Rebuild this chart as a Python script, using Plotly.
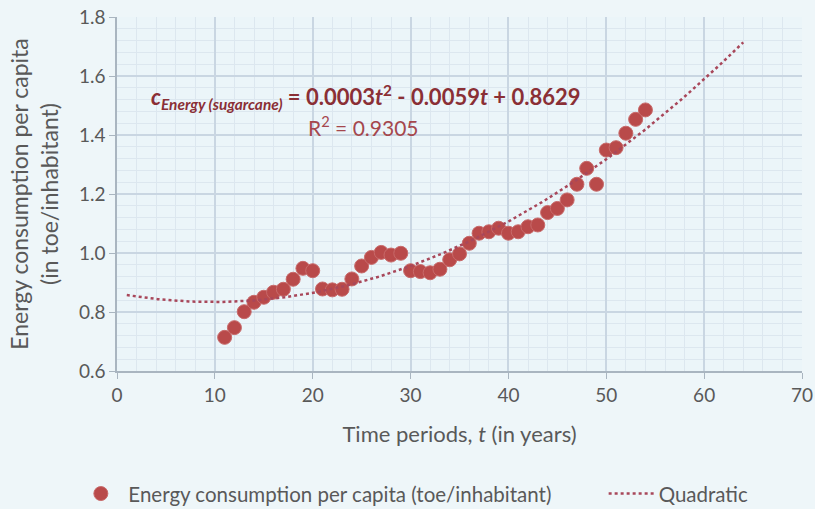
import numpy as np
import plotly.graph_objects as go

# Observed energy consumption per capita (toe/inhabitant) by time period t
t_years = list(range(11, 55))
energy_per_capita = [
    0.714, 0.747, 0.801, 0.833, 0.850, 0.867, 0.877, 0.911, 0.948, 0.940,
    0.878, 0.875, 0.877, 0.912, 0.956, 0.985, 1.002, 0.993, 0.999, 0.940,
    0.937, 0.933, 0.945, 0.977, 0.997, 1.033, 1.067, 1.072, 1.084, 1.067,
    1.072, 1.089, 1.095, 1.137, 1.151, 1.180, 1.233, 1.287, 1.233, 1.349,
    1.357, 1.406, 1.453, 1.485,
]

# Quadratic trend: c = a t^2 + b t + c0, shown from t=1 to t=64
quad_coefs = [0.0003, -0.0059, 0.8629]
r_squared = 0.9305
trend_range = [1, 64]

x_ticks = [0, 10, 20, 30, 40, 50, 60, 70]
y_ticks = [0.6, 0.8, 1.0, 1.2, 1.4, 1.6, 1.8]

FONT = "Lato, 'Open Sans', sans-serif"
GREY = "#595959"
MARKER = "#b94a4a"
TREND = "#a8475a"

t_fit = np.linspace(trend_range[0], trend_range[1], 200)
c_fit = np.polyval(quad_coefs, t_fit)

# non-breaking spaces widen the gap between the two legend entries
legend_pad = "\u00a0" * 9

fig = go.Figure()
fig.add_trace(go.Scatter(
    x=t_years, y=energy_per_capita, mode="markers",
    name="Energy consumption per capita (toe/inhabitant)" + legend_pad,
    marker=dict(size=14, color=MARKER, line=dict(color="#c86a6a", width=1)),
))
fig.add_trace(go.Scatter(
    x=t_fit, y=c_fit, mode="lines", name="Quadratic",
    line=dict(color=TREND, width=2.5, dash="dot"),
))

a2, a1, a0 = quad_coefs
eq_text = (
    "<b><i>c</i><sub><i>Energy (sugarcane)</i></sub> = "
    f"{a2:.4f}<i>t</i><sup>2</sup> - {abs(a1):.4f}<i>t</i> + {a0:.4f}</b>"
)
fig.add_annotation(
    x=25.4, y=1.53, xref="x", yref="y", text=eq_text, showarrow=False,
    font=dict(family=FONT, size=22, color="#8a2f35"),
)
fig.add_annotation(
    x=25.2, y=1.432, xref="x", yref="y", text=f"R<sup>2</sup> = {r_squared}",
    showarrow=False, font=dict(family=FONT, size=21, color="#a5474d"),
)

axis_common = dict(
    showgrid=True, gridcolor="#c9d6e2", gridwidth=1.5,
    showline=True, linecolor="#a9b5c0", linewidth=1.5,
    ticks="outside", ticklen=6, tickcolor="#a9b5c0",
    tickfont=dict(family=FONT, size=19, color=GREY),
    zeroline=False, automargin=False,
)

fig.update_xaxes(
    range=[0, 70], tickvals=x_ticks, ticktext=[str(v) for v in x_ticks],
    minor=dict(dtick=2, showgrid=True, gridcolor="#dce7ef", gridwidth=1),
    title=dict(text="Time periods, <i>t</i> (in years)",
               font=dict(family=FONT, size=22, color=GREY), standoff=22),
    **axis_common,
)
fig.update_yaxes(
    range=[0.6, 1.8], tickvals=y_ticks, ticktext=[f"{v:.1f}" for v in y_ticks],
    minor=dict(dtick=0.04, showgrid=True, gridcolor="#dce7ef", gridwidth=1),
    title=dict(text="Energy consumption per capita<br>(in toe/inhabitant)",
               font=dict(family=FONT, size=23, color=GREY), standoff=14),
    **axis_common,
)

fig.update_layout(
    width=815, height=509,
    margin=dict(l=117, r=13, t=17, b=138, autoexpand=False),
    paper_bgcolor="#eef6f9", plot_bgcolor="#ebf5f9",
    font=dict(family=FONT, color=GREY),
    showlegend=True,
    legend=dict(
        orientation="h", xref="container", yref="container",
        x=0.09, xanchor="left", y=0.03, yanchor="middle",
        font=dict(family=FONT, size=20.5, color=GREY),
        itemwidth=45, tracegroupgap=0,
        bgcolor="rgba(0,0,0,0)",
    ),
)

fig.write_html("out.html")
